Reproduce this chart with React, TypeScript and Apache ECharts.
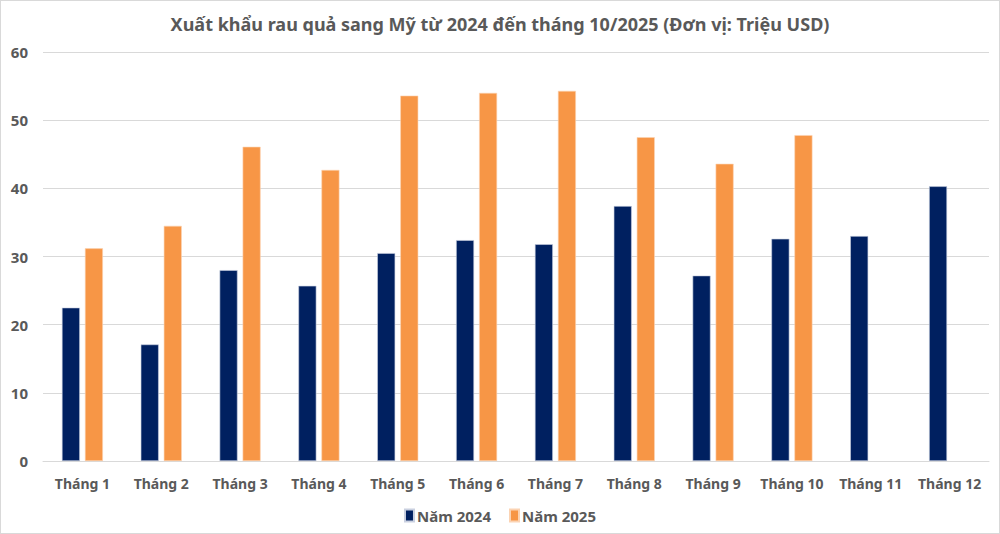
import React, { useEffect, useRef } from "react";
import * as echarts from "echarts";

const categories = ["Tháng 1", "Tháng 2", "Tháng 3", "Tháng 4", "Tháng 5", "Tháng 6", "Tháng 7", "Tháng 8", "Tháng 9", "Tháng 10", "Tháng 11", "Tháng 12"];
const values2024 = [22.5, 17.1, 28.0, 25.7, 30.5, 32.4, 31.8, 37.4, 27.2, 32.6, 33.0, 40.3];
const values2025: (number | null)[] = [31.2, 34.5, 46.1, 42.7, 53.6, 54.0, 54.3, 47.5, 43.6, 47.8, null, null];
const seriesNames = ["Năm 2024", "Năm 2025"];
const titleText = "Xuất khẩu rau quả sang Mỹ từ 2024 đến tháng 10/2025 (Đơn vị: Triệu USD)";

const FONT = "'Noto Sans', 'Open Sans', sans-serif";
const GRAY = "#595959";

export default function App() {
  const ref = useRef<HTMLDivElement>(null);
  useEffect(() => {
    if (!ref.current) return;
    const chart = echarts.init(ref.current, undefined, { renderer: "svg" });
    chart.setOption({
      animation: false,
      backgroundColor: "#ffffff",
      title: {
        text: titleText,
        left: "center",
        top: 9,
        textStyle: { fontFamily: FONT, fontSize: 18, fontWeight: "bold", color: GRAY },
      },
      legend: {
        data: seriesNames,
        bottom: 5,
        left: "center",
        itemWidth: 9,
        itemHeight: 12,
        itemGap: 18,
        icon: "rect",
        textStyle: { fontFamily: FONT, fontSize: 15, fontWeight: "bold", color: GRAY, padding: [0, 0, 0, -2] },
      },
      grid: { left: 42, right: 10, top: 51, bottom: 72, containLabel: false },
      xAxis: {
        type: "category",
        data: categories,
        axisLine: { lineStyle: { color: "#d9d9d9", width: 1 } },
        axisTick: { show: false },
        axisLabel: { fontFamily: FONT, fontSize: 14, fontWeight: "bold", color: GRAY, margin: 15, interval: 0 },
      },
      yAxis: {
        type: "value",
        min: 0,
        max: 60,
        interval: 10,
        axisLine: { show: false },
        axisTick: { show: false },
        splitLine: { lineStyle: { color: "#d9d9d9", width: 1 } },
        axisLabel: { fontFamily: FONT, fontSize: 15, fontWeight: "bold", color: GRAY, margin: 15 },
      },
      series: [
        {
          name: seriesNames[0],
          type: "bar",
          data: values2024,
          barWidth: 18,
          barGap: "28%",
          itemStyle: { color: "#002060", borderColor: "#c9d0e0", borderWidth: 0.6 },
        },
        {
          name: seriesNames[1],
          type: "bar",
          data: values2025,
          barWidth: 18,
          itemStyle: { color: "#F79646", borderColor: "#fbd3b3", borderWidth: 0.6 },
        },
      ],
    });
    return () => chart.dispose();
  }, []);
  return (
    <div
      ref={ref}
      style={{ position: "fixed", left: 0, top: 0, width: 1000, height: 534, boxSizing: "border-box", border: "1px solid #d9d9d9", background: "#fff" }}
    />
  );
}
